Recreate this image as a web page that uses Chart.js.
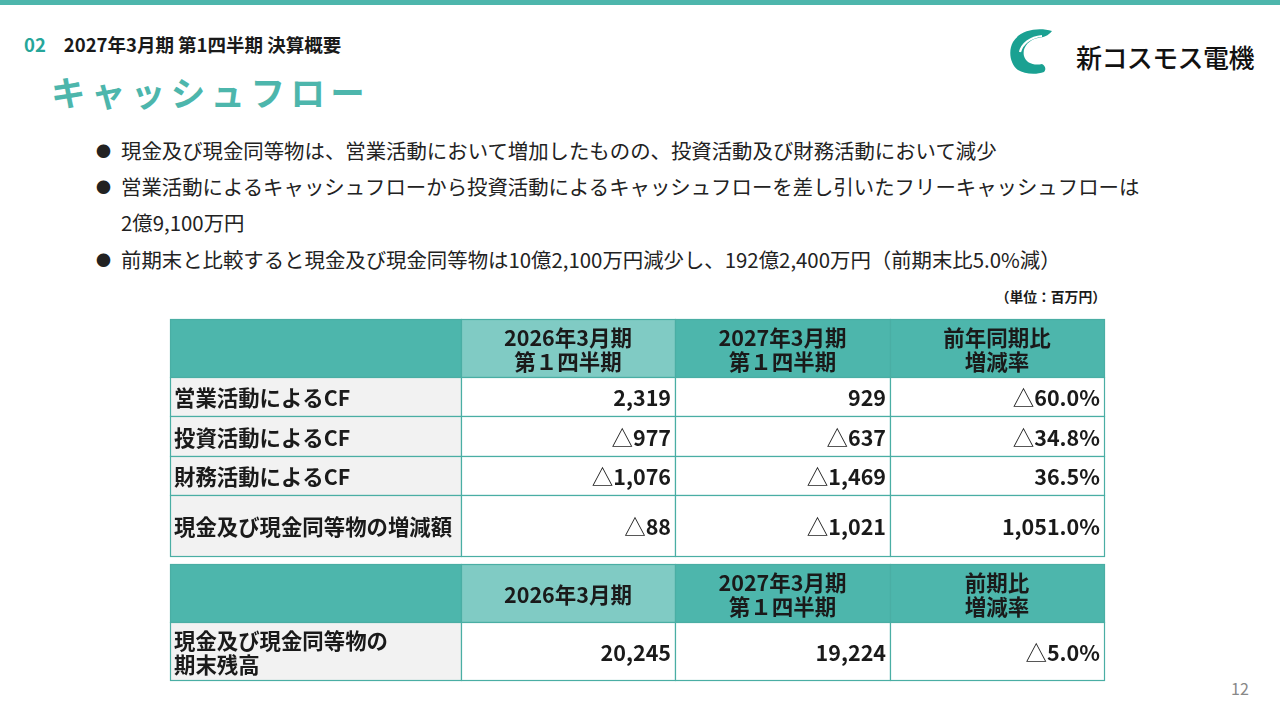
<!DOCTYPE html>
<html lang="ja">
<head>
<meta charset="utf-8">
<script src="https://cdn.jsdelivr.net/npm/chart.js@4/dist/chart.umd.min.js"></script>
<style>
  html,body{margin:0;padding:0;background:#fff;}
  body{width:1280px;height:720px;position:relative;overflow:hidden;font-family:"Noto Sans CJK JP","Noto Sans",sans-serif;color:#1a1a1a;}
  .topbar{position:absolute;left:0;top:0;width:1280px;height:5px;background:#4db6ac;}
  .sec{position:absolute;left:24px;top:32px;font-size:18.5px;font-weight:700;line-height:24px;}
  .sec .num{color:#26a69a;margin-right:18px;}
  .title{position:absolute;left:51px;top:67px;font-size:34.5px;font-weight:700;color:#4db6ac;letter-spacing:5.4px;line-height:48px;}
  .logo{position:absolute;left:1008px;top:26px;}
  .logotext{position:absolute;left:1076px;top:38px;font-size:26px;font-weight:500;letter-spacing:-0.6px;line-height:38px;color:#111;}
  .bul{position:absolute;left:96px;font-size:20.4px;line-height:26px;color:#222;white-space:nowrap;}
  .bul .dot{display:inline-block;width:25px;font-size:15px;vertical-align:2px;}
  .unit{position:absolute;right:174px;top:286px;font-size:13.8px;font-weight:700;line-height:20px;}
  .page{position:absolute;left:1231px;top:677px;font-size:16px;color:#888;line-height:22px;}
  #wrap{position:absolute;left:168px;top:317px;width:939px;height:366px;}
</style>
</head>
<body>
<div class="topbar"></div>
<div class="sec"><span class="num">02</span>2027年3月期 第1四半期 決算概要</div>
<div class="title">キャッシュフロー</div>
<svg class="logo" width="48" height="50" viewBox="0 0 48 50">
  <path d="M44,5 C30,1 12,4 5,16 C0,25 2,38 10,44 C16,48 28,49 36,46 C38,44 38,40 34,38 C26,40 18,37 16,30 C14,22 20,14 30,12 C36,11 40,10 44,5 Z" fill="#1aa192"/>
  <path d="M12,26 C14,18 22,11 34,10" stroke="#fff" stroke-width="2.2" fill="none"/>
</svg>
<div class="logotext">新コスモス電機</div>

<div class="bul" style="top:137px"><span class="dot">●</span>現金及び現金同等物は、営業活動において増加したものの、投資活動及び財務活動において減少</div>
<div class="bul" style="top:173px"><span class="dot">●</span>営業活動によるキャッシュフローから投資活動によるキャッシュフローを差し引いたフリーキャッシュフローは</div>
<div class="bul" style="top:209px;left:121px">2億9,100万円</div>
<div class="bul" style="top:246px"><span class="dot">●</span>前期末と比較すると現金及び現金同等物は10億2,100万円減少し、192億2,400万円（前期末比5.0%減）</div>
<div class="unit">（単位：百万円）</div>
<div class="page">12</div>

<div id="wrap"><canvas id="c" width="939" height="366"></canvas></div>

<script>
// ---- data ----
const flowHeaders = ['2026年3月期\n第１四半期', '2027年3月期\n第１四半期', '前年同期比\n増減率'];
const flowLabels = ['営業活動によるCF', '投資活動によるCF', '財務活動によるCF', '現金及び現金同等物の増減額'];
const flowPrev = [2319, -977, -1076, -88];
const flowCurr = [929, -637, -1469, -1021];
const flowRate = [-60.0, -34.8, 36.5, 1051.0];

const balanceHeaders = ['2026年3月期', '2027年3月期\n第１四半期', '前期比\n増減率'];
const balanceLabels = ['現金及び現金同等物の\n期末残高'];
const balancePrev = [20245];
const balanceCurr = [19224];
const balanceRate = [-5.0];

// ---- formatting ----
function fmtNum(v){ const s = Math.abs(v).toLocaleString('en-US'); return v < 0 ? '△' + s : s; }
function fmtPct(v){ const s = Math.abs(v).toLocaleString('en-US',{minimumFractionDigits:1,maximumFractionDigits:1}) + '%'; return v < 0 ? '△' + s : s; }

// ---- layout (table units) ----
const colEdges = [0, 291, 505, 720, 934];
const flowRowEdges = [0, 58, 97, 137, 176, 237];
const balRowEdges = [245, 303, 361];

const C_HEAD = '#4db6ac', C_HEAD2 = '#80cbc4', C_LABEL = '#f2f2f2', C_LINE = '#4aaea4';
const FONT_B = 'bold 21.5px "Noto Sans CJK JP"';
const FONT_L = 'bold 21.4px "Noto Sans CJK JP"';
const FONT_R = '21.5px "Noto Sans CJK JP"';

function buildTable(headers, labels, cols, rowEdges){
  const cells = [];
  for (let c = 0; c < 4; c++) {
    cells.push({x0:colEdges[c], x1:colEdges[c+1], y0:rowEdges[0], y1:rowEdges[1],
      fill: c === 1 ? C_HEAD2 : C_HEAD, text: c === 0 ? '' : headers[c-1], align:'center'});
  }
  labels.forEach((lab, r) => {
    const y0 = rowEdges[r+1], y1 = rowEdges[r+2];
    cells.push({x0:colEdges[0], x1:colEdges[1], y0, y1, fill:C_LABEL, text:lab, align:'left'});
    cols.forEach((arr, c) => {
      cells.push({x0:colEdges[c+1], x1:colEdges[c+2], y0, y1, fill:'#ffffff', text:arr[r], align:'right'});
    });
  });
  return cells;
}

const cells = buildTable(flowHeaders, flowLabels,
    [flowPrev.map(fmtNum), flowCurr.map(fmtNum), flowRate.map(fmtPct)], flowRowEdges)
  .concat(buildTable(balanceHeaders, balanceLabels,
    [balancePrev.map(fmtNum), balanceCurr.map(fmtNum), balanceRate.map(fmtPct)], balRowEdges));

const tablePlugin = {
  id:'tablePlugin',
  afterDraw(chart){
    const ctx = chart.ctx, xs = chart.scales.x, ys = chart.scales.y;
    ctx.save();
    cells.forEach(cell => {
      const L = Math.round(xs.getPixelForValue(cell.x0)), R = Math.round(xs.getPixelForValue(cell.x1));
      const T = Math.round(ys.getPixelForValue(cell.y0)), B = Math.round(ys.getPixelForValue(cell.y1));
      ctx.fillStyle = cell.fill;
      ctx.fillRect(L, T, R - L, B - T);
      ctx.strokeStyle = C_LINE; ctx.lineWidth = 1.2;
      ctx.strokeRect(L + 0.5, T + 0.5, R - L, B - T);
      const lines = String(cell.text).split('\n');
      const lh = 24, mid = (T + B) / 2 + 1.5;
      ctx.fillStyle = '#1a1a1a';
      ctx.textBaseline = 'middle';
      lines.forEach((ln, i) => {
        const y = mid + (i - (lines.length - 1) / 2) * lh;
        ctx.font = FONT_B;
        if (cell.align === 'center') { ctx.textAlign = 'center'; ctx.fillText(ln, (L + R) / 2, y); }
        else if (cell.align === 'left') { ctx.font = FONT_L; ctx.textAlign = 'left'; ctx.fillText(ln, L + 4, y); }
        else {
          ctx.textAlign = 'right';
          if (ln.startsWith('△')) {
            const rest = ln.slice(1);
            const w = ctx.measureText(rest).width;
            ctx.fillText(rest, R - 4, y);
            ctx.font = FONT_R;
            ctx.fillText('△', R - 4 - w, y);
          } else ctx.fillText(ln, R - 4, y);
        }
      });
    });
    ctx.restore();
  }
};

function draw(){
  new Chart(document.getElementById('c'), {
    type:'scatter',
    data:{datasets:[{data:[], pointRadius:0}]},
    options:{
      responsive:false, animation:false, events:[],
      layout:{padding:2},
      plugins:{legend:{display:false}, tooltip:{enabled:false}},
      scales:{
        x:{type:'linear', min:0, max:935, display:false},
        y:{type:'linear', min:0, max:362, reverse:true, display:false}
      }
    },
    plugins:[tablePlugin]
  });
}
if (document.fonts && document.fonts.load) {
  Promise.all([document.fonts.load(FONT_B), document.fonts.load(FONT_R)]).then(draw, draw);
} else draw();
</script>
</body>
</html>
